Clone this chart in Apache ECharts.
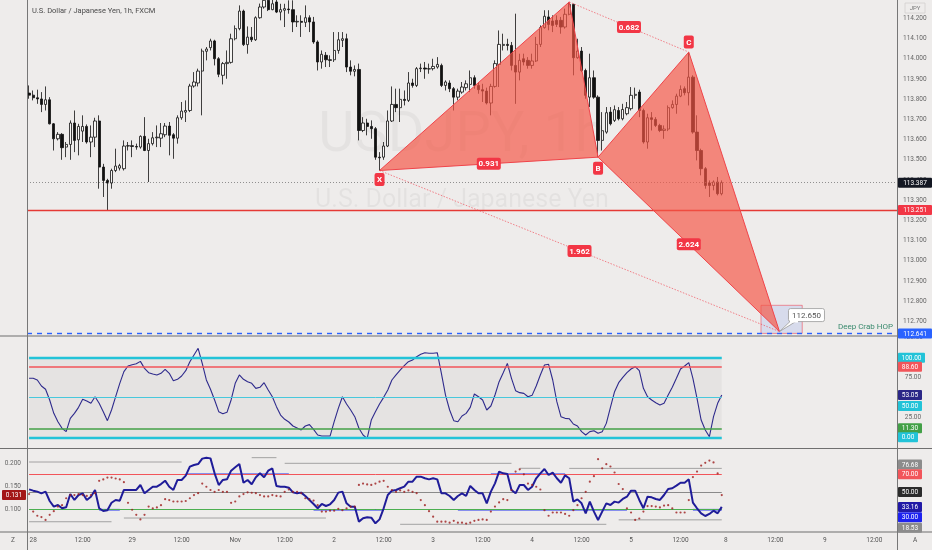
<!DOCTYPE html>
<html><head><meta charset="utf-8">
<script src="https://cdn.jsdelivr.net/npm/echarts@6/dist/echarts.min.js"></script>
<style>html,body{margin:0;padding:0;background:#eeeceb}#c{width:932px;height:550px}</style>
</head><body><div id="c"></div>
<script>
// ---------- data ----------
const barCount = 211;
const tickIdx  = [1,13,25,37,50,62,74,86,98,110,122,134,146,158,169,181,193,205];
const tickText = ['28','12:00','29','12:00','Nov','12:00','2','12:00','3','12:00','4','12:00','5','12:00','8','12:00','9','12:00'];
const priceTicks = [114.2,114.1,114.0,113.9,113.8,113.7,113.6,113.5,113.4,113.3,113.2,113.1,113.0,112.9,112.8,112.7];
const oscTicks = [125,75,25];
// [open, close, low, high]
const ohlc = [
[113.830,113.820,113.802,113.868],[113.820,113.807,113.794,113.843],[113.807,113.801,113.777,113.847],[113.801,113.774,113.736,113.835],[113.774,113.797,113.744,113.863],
[113.797,113.678,113.675,113.810],[113.678,113.604,113.546,113.682],[113.604,113.626,113.596,113.637],[113.626,113.560,113.500,113.632],[113.563,113.576,113.513,113.588],
[113.576,113.682,113.500,113.695],[113.682,113.596,113.538,113.744],[113.599,113.665,113.522,113.678],[113.642,113.665,113.588,113.720],[113.665,113.588,113.580,113.675],
[113.588,113.612,113.513,113.670],[113.612,113.692,113.563,113.708],[113.692,113.464,113.357,113.720],[113.464,113.398,113.316,113.480],[113.398,113.385,113.251,113.406],
[113.385,113.447,113.357,113.456],[113.447,113.469,113.439,113.555],[113.459,113.471,113.447,113.480],[113.456,113.568,113.447,113.596],[113.568,113.570,113.546,113.588],
[113.570,113.566,113.513,113.596],[113.566,113.563,113.550,113.580],[113.563,113.616,113.555,113.621],[113.616,113.546,113.543,113.711],[113.546,113.580,113.390,113.604],
[113.580,113.609,113.571,113.637],[113.609,113.612,113.563,113.670],[113.607,113.629,113.563,113.682],[113.624,113.667,113.612,113.682],[113.667,113.621,113.522,113.687],
[113.624,113.607,113.505,113.632],[113.607,113.708,113.580,113.720],[113.708,113.741,113.698,113.786],[113.736,113.744,113.687,113.794],[113.744,113.865,113.736,113.876],
[113.865,113.885,113.857,113.934],[113.880,113.939,113.863,113.951],[113.939,114.038,113.720,114.050],[114.037,114.048,113.992,114.058],[114.055,114.088,114.041,114.099],
[114.088,114.000,113.967,114.094],[114.000,113.923,113.909,114.008],[113.918,113.976,113.873,113.984],[113.976,113.982,113.901,114.041],[113.982,114.099,113.976,114.124],
[114.099,114.149,114.091,114.165],[114.149,114.236,114.141,114.264],[114.236,114.070,114.063,114.243],[114.070,114.107,114.025,114.160],[114.107,114.094,114.083,114.157],
[114.094,114.203,114.088,114.210],[114.203,114.256,114.198,114.273],[114.256,114.289,114.248,114.339],[114.289,114.243,114.236,114.322],[114.243,114.272,114.240,114.322],
[114.281,114.231,114.226,114.306],[114.231,114.243,114.190,114.272],[114.240,114.248,114.157,114.272],[114.246,114.243,114.223,114.289],[114.243,114.182,114.132,114.289],
[114.182,114.185,114.157,114.215],[114.185,114.180,114.108,114.215],[114.180,114.203,114.157,114.264],[114.203,114.182,114.132,114.215],[114.182,114.083,114.074,114.207],
[114.083,113.984,113.942,114.091],[113.984,114.022,113.951,114.041],[114.017,113.995,113.959,114.033],[113.995,113.992,113.959,114.017],[113.995,114.041,113.984,114.132],
[114.041,114.094,114.025,114.132],[114.091,114.099,114.058,114.132],[114.099,113.959,113.934,114.124],[113.959,113.938,113.918,113.992],[113.938,113.947,113.913,113.967],
[113.947,113.645,113.596,113.976],[113.645,113.682,113.637,113.711],[113.682,113.665,113.621,113.703],[113.665,113.654,113.604,113.695],[113.654,113.513,113.500,113.662],
[113.513,113.510,113.447,113.538],[113.513,113.568,113.500,113.588],[113.568,113.692,113.563,113.744],[113.692,113.774,113.687,113.863],[113.774,113.758,113.736,113.852],
[113.758,113.799,113.687,113.852],[113.799,113.794,113.769,113.843],[113.794,113.880,113.786,113.934],[113.880,113.868,113.857,113.901],[113.868,113.951,113.860,113.959],
[113.951,113.954,113.934,113.976],[113.954,113.949,113.901,113.984],[113.949,113.951,113.926,113.976],[113.951,113.962,113.942,114.000],[113.959,113.972,113.951,114.008],
[113.967,113.868,113.860,113.976],[113.868,113.885,113.843,113.893],[113.880,113.852,113.835,113.893],[113.852,113.810,113.744,113.860],[113.810,113.840,113.794,113.852],
[113.835,113.860,113.827,113.885],[113.857,113.876,113.843,113.893],[113.873,113.906,113.835,113.942],[113.906,113.868,113.852,113.918],[113.868,113.847,113.827,113.885],
[113.847,113.840,113.786,113.876],[113.840,113.781,113.774,113.857],[113.781,113.863,113.720,113.876],[113.863,113.976,113.857,113.992],[113.972,114.071,113.860,114.140],
[114.066,114.071,114.041,114.124],[114.071,114.066,114.041,114.099],[114.066,113.967,113.942,114.083],[113.967,113.934,113.777,114.223],[113.934,113.992,113.893,114.025],
[114.000,113.984,113.967,114.025],[113.992,113.967,113.951,114.008],[113.967,113.989,113.951,114.025],[113.989,114.071,113.984,114.108],[114.071,114.154,114.058,114.165],
[114.154,114.210,114.149,114.240],[114.207,114.170,114.141,114.240],[114.187,114.165,114.132,114.215],[114.190,114.170,114.157,114.215],[114.190,114.157,114.124,114.207],
[114.157,114.220,114.149,114.248],[114.220,114.269,114.215,114.281],[114.269,114.005,113.918,114.272],[114.005,114.038,114.000,114.099],[114.038,113.942,113.934,114.058],
[113.942,113.819,113.802,113.951],[113.810,113.906,113.761,114.025],[113.906,113.810,113.802,113.942],[113.810,113.596,113.513,113.819],[113.596,113.644,113.546,113.736],
[113.637,113.733,113.629,113.761],[113.736,113.678,113.670,113.761],[113.695,113.748,113.687,113.769],[113.744,113.703,113.695,113.761],[113.703,113.749,113.695,113.777],
[113.728,113.758,113.720,113.786],[113.753,113.819,113.744,113.860],[113.819,113.824,113.802,113.857],[113.835,113.744,113.711,113.847],[113.744,113.588,113.580,113.753],
[113.588,113.708,113.555,113.728],[113.708,113.700,113.645,113.736],[113.700,113.670,113.662,113.711],[113.670,113.645,113.637,113.678],[113.645,113.652,113.604,113.670],
[113.652,113.758,113.642,113.769],[113.758,113.774,113.753,113.794],[113.774,113.815,113.728,113.827],[113.815,113.848,113.810,113.868],[113.852,113.832,113.819,113.863],
[113.832,113.909,113.769,114.033],[113.909,113.637,113.629,113.918],[113.637,113.546,113.497,113.720],[113.546,113.456,113.423,113.555],[113.456,113.373,113.357,113.464],
[113.385,113.373,113.316,113.398],[113.373,113.390,113.349,113.398],[113.390,113.332,113.324,113.415],[113.332,113.387,113.324,113.398]
];
// XABCD pattern
const patName = ['X','A','B','C','D'];
const patIdx  = [85,131,138,160,182];
const patPx   = [113.447,114.281,113.513,114.033,112.650];
const ratioPairs = [[0,2],[1,3],[0,4],[2,4]];
const ratioText  = ['0.931','0.682','1.962','2.624'];
const lastPrice = 113.387, supportLine = 113.251, hopLevel = 112.641;
const targetBox = [178,188,112.78,112.641];

// oscillator pane
const osc = [74.1,74.1,72.0,64.4,60.3,46.9,30.1,19.6,11.3,7.1,
23.8,30.1,37.6,47.7,45.6,42.7,51.0,42.7,32.2,20.9,
34.3,51.0,67.8,82.5,89.6,91.2,92.5,95.4,86.6,81.2,
79.5,78.3,80.4,85.4,80.4,71.1,72.8,77.0,83.7,95.0,
103.4,111.8,92.9,72.0,60.3,46.9,32.2,29.7,31.4,46.9,
67.8,78.3,72.8,69.9,67.8,61.5,62.8,68.6,59.4,51.0,
38.5,28.0,22.6,19.2,14.2,11.7,9.2,14.2,15.9,10.0,
2.9,1.6,1.6,1.6,19.6,36.4,51.0,41.8,34.3,25.9,
11.3,2.9,-1.3,21.7,32.2,41.8,50.2,59.4,72.0,78.3,
84.5,90.0,95.0,97.1,101.3,104.2,106.3,105.5,105.5,106.3,
80.4,53.1,34.3,20.9,19.6,26.8,30.1,37.6,54.4,51.0,
46.9,34.3,39.3,53.1,69.9,81.2,92.9,74.1,58.6,56.1,
55.2,51.0,52.7,64.4,78.3,90.8,91.7,72.0,44.8,25.9,
23.8,23.4,16.7,14.2,7.1,2.9,7.1,8.3,5.0,7.1,
17.5,37.6,57.3,68.6,75.3,81.2,85.8,88.7,83.7,61.5,
51.0,46.9,43.5,40.6,42.7,53.1,62.8,74.1,85.8,89.6,
93.8,74.1,49.0,21.7,9.2,0.8,25.9,42.7,53.05];
const oscLevels = [100,88.6,50,11.3,0];

// lower pane
const rsi = [53.0,51.5,50.4,48.5,50.4,39.8,33.4,35.3,31.6,32.7,
47.8,41.0,46.6,48.5,41.0,44.7,52.3,31.6,28.5,29.3,
37.9,41.0,40.2,52.3,52.3,52.3,52.3,57.9,48.5,52.3,
56.0,56.0,59.0,62.8,56.0,52.3,63.6,63.6,68.5,78.6,
80.5,81.6,87.7,88.8,88.0,71.1,57.9,63.6,64.3,74.1,
77.9,81.6,60.5,63.6,58.7,66.6,71.1,66.6,74.1,76.7,
56.8,56.0,56.0,54.9,49.6,48.5,49.3,45.5,41.0,36.5,
31.6,36.5,34.2,36.1,41.0,49.3,50.4,37.2,33.4,33.4,
16.5,20.3,21.4,21.0,14.6,19.1,31.6,46.6,51.5,52.3,
54.2,56.0,61.7,61.7,67.3,67.3,65.5,64.3,65.5,64.3,
48.5,48.5,45.5,41.0,45.5,48.5,45.5,56.8,52.3,48.5,
48.5,37.2,50.4,59.8,73.0,71.1,70.3,52.3,48.5,57.9,
57.9,52.3,56.0,65.5,71.1,76.0,69.2,71.9,65.5,60.5,
68.8,65.5,39.1,41.7,37.2,25.9,39.1,27.8,18.4,27.8,
37.2,35.3,39.1,38.0,42.1,44.7,51.5,51.5,41.0,31.6,
44.7,44.0,42.1,41.0,46.6,53.4,54.2,57.2,60.5,60.5,
64.3,38.0,31.6,25.9,22.9,25.2,28.9,25.9,33.16];
const dots = [0.133,0.095,0.086,0.083,0.077,0.088,0.096,0.106,0.109,0.124,
0.131,0.131,0.133,0.131,0.129,0.131,0.135,0.162,0.165,0.169,
0.169,0.167,0.165,0.159,0.114,0.099,0.088,0.078,0.088,0.106,
0.102,0.104,0.109,0.122,0.120,0.117,0.117,0.117,0.118,0.124,
0.131,0.135,0.156,0.149,0.142,0.138,0.142,0.138,0.138,0.114,
0.117,0.128,0.133,0.137,0.136,0.135,0.131,0.128,0.128,0.131,
0.129,0.128,0.138,0.143,0.138,0.138,0.135,0.124,0.122,0.119,
0.109,0.095,0.095,0.097,0.097,0.101,0.098,0.102,0.106,0.106,
0.153,0.156,0.154,0.153,0.156,0.160,0.162,0.149,0.142,0.138,
0.141,0.138,0.141,0.138,0.135,0.120,0.109,0.096,0.084,0.073,
0.073,0.073,0.071,0.075,0.071,0.071,0.069,0.071,0.075,0.077,
0.078,0.077,0.095,0.106,0.115,0.122,0.120,0.142,0.182,0.187,
0.176,0.156,0.153,0.149,0.143,0.098,0.086,0.093,0.093,0.093,
0.090,0.086,0.098,0.109,0.124,0.138,0.160,0.172,0.209,0.189,
0.198,0.193,0.180,0.155,0.144,0.102,0.093,0.077,0.080,0.095,
0.107,0.107,0.106,0.104,0.108,0.109,0.102,0.093,0.093,0.093,
0.120,0.170,0.182,0.195,0.201,0.206,0.202,0.178,0.131];
const rsiLevels = [70,50,30];
const graySegs = [[0,20,16.4],[23,72,20.6],[0,37,83.9],[54,60,88.8],[62,117,82.4],[90,140,13.5],[119,124,76.8],[131,168,76.68],[143,168,18.53]];
const blueSegs = [[17,22,30],[38,63,70],[69,86,30],[104,145,30],[112,130,70],[161,168,30]];

// ---------- chart ----------
const F = 'Roboto, "Liberation Sans", sans-serif';
const cats = Array.from({length: barCount}, (_, i) => String(i));
const lastIdx = ohlc.length - 1;
const chart = echarts.init(document.getElementById('c'), null, {renderer: 'canvas'});

const G = [{left:27,right:35,top:0,height:335.5},{left:27,right:35,top:337,height:111},{left:27,right:35,top:449,height:82.7}];
const xAx = G.map((g, k) => ({
  type:'category', gridIndex:k, data:cats, boundaryGap:true, show:k===2,
  axisLine:{show:false}, axisTick:{show:false}, splitLine:{show:false},
  axisLabel:{interval:(i)=>tickIdx.indexOf(i)>=0, formatter:(v,i)=>tickText[tickIdx.indexOf(Number(v))] || '',
    color:'#555', fontSize:6.5, fontFamily:F, margin:5}
}));
const yBase = {splitLine:{show:false}, axisLine:{show:false}, axisTick:{show:false}, scale:true};
const yAx = [
  Object.assign({}, yBase, {gridIndex:0, position:'right', min:112.6306, max:114.2907,
    axisLabel:{customValues:priceTicks, formatter:v=>v.toFixed(3), color:'#666', fontSize:6.5, fontFamily:F, margin:6}}),
  Object.assign({}, yBase, {gridIndex:1, position:'right', min:-13.44, max:126.0, axisLabel:{show:false}}),
  Object.assign({}, yBase, {gridIndex:2, position:'right', min:5.14, max:98.59, axisLabel:{show:false}}),
  Object.assign({}, yBase, {gridIndex:2, position:'left', min:0.0513, max:0.2311,
    axisLabel:{customValues:[0.2,0.15,0.1], formatter:v=>v.toFixed(3), color:'#666', fontSize:6.5, fontFamily:F, margin:6}})
];

function levelLine(v, color, width, type) {
  return [{coord:[0, v], lineStyle:{color, width, type}}, {coord:[lastIdx, v]}];
}
const red = '#f23645';
const tri = [[0,1,2],[2,3,4]].map(t => t.flatMap(k => [patIdx[k], patPx[k]]));
const pairData = ratioPairs.map(p => [patIdx[p[0]], patPx[p[0]], patIdx[p[1]], patPx[p[1]]]);
const vertexOff = {X: 9, B: 11, C: -10};

const option = {
  backgroundColor:'#eeeceb', animation:false,
  grid:G, xAxis:xAx, yAxis:yAx,
  series:[
    {type:'candlestick', xAxisIndex:0, yAxisIndex:0, data:ohlc, barWidth:2.8, clip:true, z:2,
     itemStyle:{color:'#f7f6f4', color0:'#111', borderColor:'#111', borderColor0:'#111', borderWidth:0.8},
     markLine:{symbol:'none', silent:true, label:{show:false}, animation:false, data:[
       {yAxis:lastPrice, lineStyle:{color:'#777', width:0.8, type:[1,2]}},
       {yAxis:supportLine, lineStyle:{color:'#e53935', width:1.3, type:'solid'}},
       {yAxis:hopLevel, lineStyle:{color:'#2962ff', width:1.4, type:[5,5]}}
     ]}},
    {type:'custom', xAxisIndex:0, yAxisIndex:0, data:tri, z:5, silent:true,
     renderItem:(p, api)=>{
       const pts=[0,1,2].map(k=>api.coord([api.value(2*k), api.value(2*k+1)]));
       return {type:'polygon', shape:{points:pts}, style:{fill:'rgba(244,86,70,0.68)', stroke:'#f0444a', lineWidth:1}};
     }},
    {type:'custom', xAxisIndex:0, yAxisIndex:0, data:[pairData[1], pairData[2]], z:5, silent:true,
     renderItem:(p, api)=>{
       const a=api.coord([api.value(0),api.value(1)]), b=api.coord([api.value(2),api.value(3)]);
       return {type:'line', shape:{x1:a[0],y1:a[1],x2:b[0],y2:b[1]}, style:{stroke:'rgba(242,54,69,0.75)', lineWidth:0.8, lineDash:[1.5,1.5]}};
     }},
    {type:'custom', xAxisIndex:0, yAxisIndex:0, data:pairData, z:8, silent:true,
     renderItem:(p, api)=>{
       const a=api.coord([api.value(0),api.value(1)]), b=api.coord([api.value(2),api.value(3)]);
       const mx=(a[0]+b[0])/2, my=(a[1]+b[1])/2, w=24;
       return {type:'group', children:[
         {type:'rect', shape:{x:mx-w/2, y:my-6, width:w, height:12, r:2}, style:{fill:red}},
         {type:'text', style:{x:mx, y:my+0.5, text:ratioText[p.dataIndex], fill:'#fff', font:'bold 8px '+F, align:'center', verticalAlign:'middle'}}
       ]};
     }},
    {type:'custom', xAxisIndex:0, yAxisIndex:0, data:[0,2,3].map(k=>[patIdx[k], patPx[k]]), z:8, silent:true,
     renderItem:(p, api)=>{
       const nm = patName[[0,2,3][p.dataIndex]];
       const c=api.coord([api.value(0),api.value(1)]), y=c[1]+vertexOff[nm];
       return {type:'group', children:[
         {type:'rect', shape:{x:c[0]-5, y:y-6.5, width:10, height:13, r:2}, style:{fill:red}},
         {type:'text', style:{x:c[0], y:y+0.5, text:nm, fill:'#fff', font:'bold 8px '+F, align:'center', verticalAlign:'middle'}}
       ]};
     }},
    {type:'custom', xAxisIndex:0, yAxisIndex:0, data:[targetBox], z:4, silent:true,
     renderItem:(p, api)=>{
       const a=api.coord([api.value(0),api.value(2)]), b=api.coord([api.value(1),api.value(3)]);
       return {type:'rect', shape:{x:a[0]-2, y:a[1], width:b[0]-a[0], height:b[1]-a[1]}, style:{fill:'rgba(196,206,236,0.55)', stroke:'rgba(242,54,69,0.65)', lineWidth:0.8}};
     }},
    {type:'custom', xAxisIndex:0, yAxisIndex:0, data:[[patIdx[4], patPx[4]]], z:9, silent:true,
     renderItem:(p, api)=>{
       const c=api.coord([api.value(0),api.value(1)]);
       const bx=c[0]+9, by=c[1]-23, w=36, h=13;
       return {type:'group', children:[
         {type:'polygon', shape:{points:[[bx+2,by+h-0.5],[bx+8,by+h-0.5],[c[0],c[1]]]}, style:{fill:'#fff', stroke:'#999', lineWidth:0.8}},
         {type:'rect', shape:{x:bx, y:by, width:w, height:h, r:2}, style:{fill:'#fff', stroke:'#999', lineWidth:0.8}},
         {type:'rect', shape:{x:bx+1.5, y:by+h-2, width:8, height:3}, style:{fill:'#fff'}},
         {type:'text', style:{x:bx+w/2, y:by+h/2+0.5, text:patPx[4].toFixed(3), fill:'#555', font:'8px '+F, align:'center', verticalAlign:'middle'}}
       ]};
     }},
    // oscillator pane
    {type:'line', xAxisIndex:1, yAxisIndex:1, data:osc, symbol:'none', z:4,
     lineStyle:{color:'#2e2a8c', width:1.1},
     markArea:{silent:true, itemStyle:{color:'rgba(0,0,0,0.035)'}, data:[[{coord:[0,100]},{coord:[lastIdx,0]}]]},
     markLine:{symbol:'none', silent:true, label:{show:false}, animation:false, data:[
       levelLine(oscLevels[0], '#22c3d8', 2.4, 'solid'),
       levelLine(oscLevels[1], '#f2555a', 1.6, 'solid'),
       levelLine(oscLevels[2], '#48c8dc', 1, 'solid'),
       levelLine(oscLevels[3], '#43a047', 1.6, 'solid'),
       levelLine(oscLevels[4], '#22c3d8', 2.4, 'solid')
     ]}},
    // lower pane
    {type:'custom', xAxisIndex:2, yAxisIndex:2, data:graySegs, z:3, silent:true,
     renderItem:(p, api)=>{
       const a=api.coord([api.value(0),api.value(2)]), b=api.coord([api.value(1),api.value(2)]);
       return {type:'line', shape:{x1:a[0],y1:a[1],x2:b[0],y2:b[1]}, style:{stroke:'#9a9a9a', lineWidth:0.9}};
     }},
    {type:'line', xAxisIndex:2, yAxisIndex:2, data:rsi, symbol:'none', z:5,
     lineStyle:{color:'#1f1c99', width:2},
     markLine:{symbol:'none', silent:true, label:{show:false}, animation:false, data:[
       levelLine(rsiLevels[0], '#f2555a', 1, 'solid'),
       levelLine(rsiLevels[1], '#8a8a8a', 1.2, 'solid'),
       levelLine(rsiLevels[2], '#4caf50', 1, 'solid')
     ]}},
    {type:'custom', xAxisIndex:2, yAxisIndex:2, data:blueSegs, z:4, silent:true,
     renderItem:(p, api)=>{
       const a=api.coord([api.value(0),api.value(2)]), b=api.coord([api.value(1),api.value(2)]);
       return {type:'line', shape:{x1:a[0],y1:a[1],x2:b[0],y2:b[1]}, style:{stroke:'#2130f0', lineWidth:1.6}};
     }},
    {type:'scatter', xAxisIndex:2, yAxisIndex:3, data:dots, symbol:'circle', symbolSize:2.2, z:6,
     itemStyle:{color:'#9c1c1c'}}
  ]
};
chart.setOption(option);

// ---------- overlays (tags, separators, texts) ----------
const py = (axis, v) => chart.convertToPixel({yAxisIndex: axis}, v);
function tag(x, y, w, text, bg) {
  return {type:'group', x, y, z:100, children:[
    {type:'rect', z:100, shape:{x:0, y:-5, width:w, height:10, r:1}, style:{fill:bg}},
    {type:'text', z:101, style:{x:w/2, y:0.5, text, fill:'#fff', font:'6.5px '+F, align:'center', verticalAlign:'middle'}}
  ]};
}
const rightTags = [
  [0, lastPrice, '113.387', '#131722', 0, 34],
  [0, supportLine, '113.251', '#f23645', 0, 34],
  [0, hopLevel, '112.641', '#2962ff', 0, 34],
  [1, 100, '100.00', '#22c3d8', 0, 27],
  [1, 88.6, '88.60', '#f2555a', 0, 24],
  [1, 53.05, '53.05', '#2b2787', 0, 24],
  [1, 50, '50.00', '#22c3d8', 8.5, 24],
  [1, 11.3, '11.30', '#43a047', 0, 24],
  [1, 0, '0.00', '#22c3d8', 0, 20],
  [2, 76.68, '76.68', '#8c8c8c', -4, 24],
  [2, 70, '70.00', '#f2555a', 0, 24],
  [2, 50, '50.00', '#2b2b2b', 0, 24],
  [2, 33.16, '33.16', '#2119a6', 0, 24],
  [2, 30, '30.00', '#1e22f0', 7.6, 24],
  [2, 18.53, '18.53', '#8c8c8c', 7.8, 24]
];
const gfx = [];
// watermark
gfx.push({type:'text', z:0, x:462, y:137, style:{text:'USDJPY, 1h', fill:'rgba(0,0,0,0.04)', font:'56px '+F, align:'center', verticalAlign:'middle'}});
gfx.push({type:'text', z:0, x:462, y:201, style:{text:'U.S. Dollar / Japanese Yen', fill:'rgba(0,0,0,0.045)', font:'25px '+F, align:'center', verticalAlign:'middle'}});
// title
gfx.push({type:'text', z:100, x:32, y:11, style:{text:'U.S. Dollar / Japanese Yen, 1h, FXCM', fill:'#4a4a4a', font:'7.5px '+F, align:'left', verticalAlign:'middle'}});
// Deep Crab HOP
gfx.push({type:'text', z:100, x:893, y:py(0, hopLevel)-6.5, style:{text:'Deep Crab HOP', fill:'#3a8a6e', font:'8px '+F, align:'right', verticalAlign:'middle'}});
// oscillator axis labels (placed through the axis scale)
oscTicks.forEach(v => gfx.push({type:'text', z:95, x:913, y:py(1, v), style:{text:v.toFixed(2), fill:'#666', font:'6.5px '+F, align:'center', verticalAlign:'middle'}}));
// separators
const sep = (x1,y1,x2,y2,c,w)=>({type:'line', z:90, shape:{x1,y1,x2,y2}, style:{stroke:c, lineWidth:w}});
gfx.push(sep(0,336,932,336,'#6f6f6f',1));
gfx.push(sep(0,448.5,932,448.5,'#6f6f6f',1));
gfx.push(sep(0,532,932,532,'#6f6f6f',1));
gfx.push(sep(27.5,0,27.5,550,'#777',1));
gfx.push(sep(897.5,0,897.5,550,'#777',1));
// JPY label
gfx.push({type:'rect', z:100, shape:{x:905, y:3, width:20, height:10}, style:{fill:'none', stroke:'#d2d0ce', lineWidth:0.8}});
gfx.push({type:'text', z:100, x:915, y:8.5, style:{text:'JPY', fill:'#777', font:'6px '+F, align:'center', verticalAlign:'middle'}});
// corner letters
gfx.push({type:'text', z:100, x:13, y:540.5, style:{text:'Z', fill:'#555', font:'6.5px '+F, align:'center', verticalAlign:'middle'}});
gfx.push({type:'text', z:100, x:915, y:540.5, style:{text:'A', fill:'#555', font:'6.5px '+F, align:'center', verticalAlign:'middle'}});
// tags
rightTags.forEach(t => gfx.push(tag(898, py(t[0], t[1]) + t[4], t[5], t[2], t[3])));
gfx.push(tag(2, py(3, dots[lastIdx]), 24, dots[lastIdx].toFixed(3), '#a31616'));
chart.setOption({graphic: gfx});
</script>
</body></html>
